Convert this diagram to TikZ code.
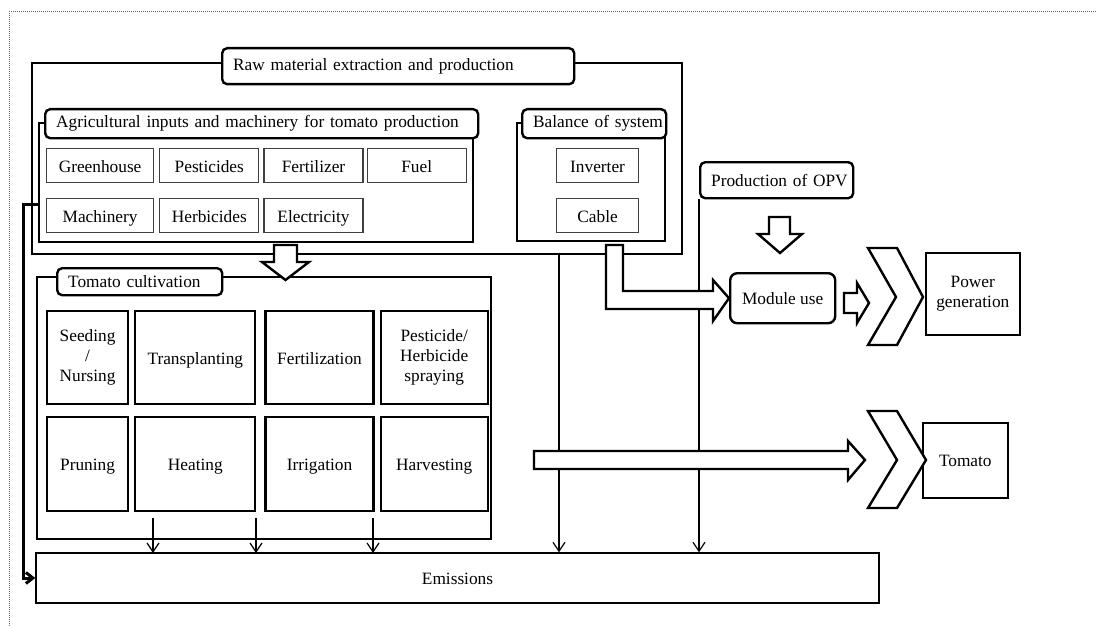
\documentclass[tikz,border=0pt]{standalone}
\usepackage{fontspec}
\setmainfont{Liberation Serif}
\usetikzlibrary{positioning,fit,arrows.meta}

\tikzset{
  every node/.style={font=\fontsize{17.3}{20}\selectfont},
  group/.style={draw, line width=1.6pt, inner sep=0pt},
  title/.style={draw, fill=white, rounded corners=5pt, line width=2.4pt,
    inner xsep=11pt, inner ysep=0pt, align=left, anchor=north west},
  oneline/.style={text height=14.5pt, text depth=1.5pt},
  item/.style={draw=black!75, line width=1.2pt, minimum width=99, minimum height=34,
    inner sep=0pt, oneline},
  cell/.style={draw, line width=2.2pt, align=center, inner sep=0pt},
  emit/.style={-{Straight Barb[length=9pt,width=12pt]}, line width=1.2pt},
  blockarrow/.style={draw, fill=white, line width=2.4pt, line join=miter},
}

\begin{document}
\begin{tikzpicture}[x=1pt,y=-1pt]
  \useasboundingbox (0,0) rectangle (1096,626);
  % dotted frame
  \draw[black!60, densely dotted, line width=1pt] (9,626) -- (9,12) -- (1096,12);

  % raw material extraction and production
  \node[group, fit={(32,63) (682,254)}] (raw) {};
  \node[group, fit={(39,123) (473,242)}] (agri) {};
  \node[group, fit={(517,123) (665,241)}] (bos) {};
  \node[title, text width=330, minimum height=36] (rawtitle) at (221,47)
    {\mbox{Raw material extraction and production}};
  \node[title, text width=411, minimum height=29] (agrititle) at (44,108)
    {\mbox{Agricultural inputs and machinery for tomato production}};
  \node[title, text width=122, minimum height=29] (bostitle) at (521,108)
    {\mbox{Balance of system}};

  \node[item, minimum width=107, anchor=north west] (greenhouse) at (46,148) {Greenhouse};
  \node[item, right=5pt of greenhouse] (pesticides) {Pesticides};
  \node[item, right=4pt of pesticides] (fertilizer) {Fertilizer};
  \node[item, right=3pt of fertilizer] (fuel) {Fuel};
  \node[item, minimum width=107, below=15pt of greenhouse] (machinery) {Machinery};
  \node[item, right=5pt of machinery] (herbicides) {Herbicides};
  \node[item, right=4pt of herbicides] (electricity) {Electricity};

  \node[item, minimum width=82, anchor=north west] (inverter) at (556,148) {Inverter};
  \node[item, minimum width=82, below=15pt of inverter] (cable) {Cable};

  % tomato cultivation
  \node[group, fit={(37,277) (491,539)}] (cultiv) {};
  \node[title, text width=143, minimum height=27] (cultivtitle) at (56,267)
    {\mbox{Tomato cultivation}};

  \node[cell, minimum width=81, minimum height=93, anchor=north west] (seeding) at (46,310)
    {Seeding\\/\\Nursing};
  \node[cell, oneline, minimum width=120, minimum height=93, right=5pt of seeding] (transplanting) {Transplanting};
  \node[cell, oneline, minimum width=108, minimum height=93, right=8pt of transplanting] (fertilization) {Fertilization};
  \node[cell, minimum width=107, minimum height=93, right=5pt of fertilization] (spraying)
    {Pesticide/\\Herbicide\\spraying};
  \node[cell, oneline, minimum width=81, minimum height=94, below=11pt of seeding] (pruning) {Pruning};
  \node[cell, oneline, minimum width=120, minimum height=94, right=5pt of pruning] (heating) {Heating};
  \node[cell, oneline, minimum width=108, minimum height=94, right=8pt of heating] (irrigation) {Irrigation};
  \node[cell, oneline, minimum width=107, minimum height=94, right=5pt of irrigation] (harvesting) {Harvesting};

  % emissions
  \node[group, line width=1.4pt, fit={(36,553) (879,603)}] (emis) {};
  \node[oneline] at (emis.center) {Emissions};

  % OPV side
  \node[title, text width=131, minimum height=36] (opv) at (699,161) {\mbox{Production of OPV}};
  \node[draw, oneline, rounded corners=7pt, line width=2.4pt, minimum width=105, minimum height=50,
    anchor=north west] (module) at (729,272) {Module use};
  \node[draw, line width=1.6pt, minimum width=94, minimum height=82, align=center,
    anchor=north west] (power) at (925,252) {Power\\generation};
  \node[draw, oneline, line width=1.6pt, minimum width=85, minimum height=75,
    anchor=north west] (tomato) at (922,422) {Tomato};

  % emission flows
  \coordinate (agriout) at (39,204);
  \coordinate (bosout) at (559,254);
  \draw[line width=3pt, -{Straight Barb[length=7pt,width=11pt]}]
    (agriout) -- (23,204) |- (emis.west);
  \draw[emit] (bosout) -- (bosout |- emis.north);
  \draw[emit] (opv.south west) -- (opv.south west |- emis.north);
  \foreach \x in {153,256,373}
    \draw[emit] (\x,518) -- (\x,553);

  % block arrows
  \draw[blockarrow] (274,245) -- (297,245) -- (297,262) -- (309,262) -- (285.5,280)
    -- (262,262) -- (274,262) -- cycle;
  \draw[blockarrow] (606,245) -- (623,245) -- (623,291) -- (713,291) -- (713,280)
    -- (module.west) -- (713,321) -- (713,309) -- (606,309) -- cycle;
  \draw[blockarrow] (769,217) -- (790,217) -- (790,234) -- (802,234) -- (780,253)
    -- (758,234) -- (769,234) -- cycle;
  \draw[blockarrow] (844,293) -- (857,293) -- (857,283) -- (869,303) -- (857,323)
    -- (857,313) -- (844,313) -- cycle;
  \draw[blockarrow] (534,451) -- (848,451) -- (848,441) -- (865,460) -- (848,480)
    -- (848,469) -- (534,469) -- cycle;

  % chevrons
  \draw[blockarrow] (868,248) -- (897,248) -- (923,297) -- (897,345) -- (868,345)
    -- (896,297) -- cycle;
  \draw[blockarrow] (868,411) -- (897,411) -- (926,460) -- (897,508) -- (868,508)
    -- (897,460) -- cycle;
\end{tikzpicture}
\end{document}
